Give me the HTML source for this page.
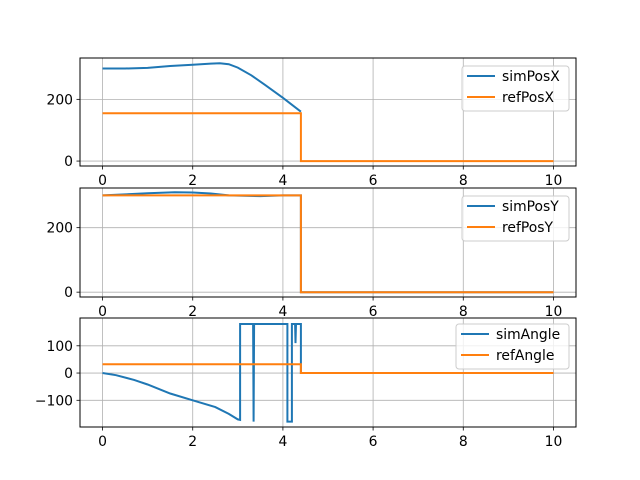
<!DOCTYPE html>
<html><head><meta charset="utf-8"><style>
body{margin:0;background:#fff}
svg{display:block;font-family:"DejaVu Sans","Liberation Sans",sans-serif}
</style></head><body>
<svg id="c" width="640" height="480"></svg>
<script>
// subplot 1
const simXT=[0,0.5,1,1.5,2,2.4,2.6,2.8,3,3.3,3.6,4,4.4];
const simXV=[300,300,302,308,312,316,317,314,303,278,247,205,160];
const refXT=[0,4.4,4.4,10];
const refXV=[155,155,0,0];
// subplot 2
const simYT=[0,0.5,1,1.6,2,2.4,2.8,3.5,4,4.4,4.4,10];
const simYV=[300,303,307,310,309,306,300,298,300,300,0,0];
const refYT=[0,4.4,4.4,10];
const refYV=[300,300,0,0];
// subplot 3
const simAT=[0,0.3,0.7,1,1.5,2,2.5,2.8,3.0,3.05,3.05,3.34,3.35,3.36,4.1,4.1,4.2,4.2,4.27,4.28,4.29,4.4,4.4,10];
const simAV=[0,-8,-25,-42,-75,-100,-125,-150,-170,-172,180,180,-178,180,180,-178,-178,180,180,110,180,180,0,0];
const refAT=[0,4.4,4.4,10];
const refAV=[32,32,0,0];
const xTicks=[0,2,4,6,8,10];
const ticks1=[0,200],ticks2=[0,200],ticks3=[-100,0,100];

const svg=document.getElementById('c');const NS='http://www.w3.org/2000/svg';
function el(t,a,p){const e=document.createElementNS(NS,t);for(const k in a)e.setAttribute(k,a[k]);(p||svg).appendChild(e);return e;}
const X0=80,X1=576;
const xs=t=>X0+(t+0.5)/11*(X1-X0);
function panel(top,bot,ymin,ymax,yt,series,legend,leg){
  const ys=v=>bot-(v-ymin)/(ymax-ymin)*(bot-top);
  const g=el('g',{});
  
  
  xTicks.forEach(t=>{el('line',{x1:xs(t),x2:xs(t),y1:top,y2:bot,stroke:'#b0b0b0','stroke-width':0.8},g);
    el('line',{x1:xs(t),x2:xs(t),y1:bot,y2:bot+3.5,stroke:'#000','stroke-width':0.8},g);
    const tx=el('text',{x:xs(t),y:bot+19,'font-size':13.9,'text-anchor':'middle'},g);tx.textContent=t;
    });
  yt.forEach(v=>{el('line',{x1:X0,x2:X1,y1:ys(v),y2:ys(v),stroke:'#b0b0b0','stroke-width':0.8},g);
    el('line',{x1:X0-3.5,x2:X0,y1:ys(v),y2:ys(v),stroke:'#000','stroke-width':0.8},g);
    const tx=el('text',{x:X0-7,y:ys(v)+5,'font-size':13.9,'text-anchor':'end'},g);tx.textContent=v<0?'\u2212'+(-v):v;
    });
  const cols=['#1f77b4','#ff7f0e'];
  series.forEach((s,i)=>{const d=s[0].map((t,j)=>(j?'L':'M')+xs(t).toFixed(1)+','+ys(s[1][j]).toFixed(1)).join('');
    const p=el('path',{d:d,fill:'none',stroke:cols[i],'stroke-width':2},g);
    });
  el('rect',{x:X0,y:top,width:X1-X0,height:bot-top,fill:'none',stroke:'#000','stroke-width':1},g);
  const lg=el('g',{},g);
  el('rect',{x:leg[0],y:leg[1],width:569-leg[0],height:45,rx:3,fill:'#fff','fill-opacity':0.8,stroke:'#ccc'},lg);
  legend.forEach((n,i)=>{const y=leg[1]+10+i*21;
    el('line',{x1:leg[0]+5,x2:leg[0]+33,y1:y,y2:y,stroke:cols[i],'stroke-width':2},lg);
    const tx=el('text',{x:leg[0]+40,y:y+5,'font-size':13.9},lg);tx.textContent=n;
    });
}
panel(58,166,-16,334,ticks1,[[simXT,simXV],[refXT,refXV]],['simPosX','refPosX'],[462,66]);
panel(188,297,-15,323,ticks2,[[simYT,simYV],[refYT,refYV]],['simPosY','refPosY'],[462,196]);
panel(318,427,-198,202,ticks3,[[simAT,simAV],[refAT,refAV]],['simAngle','refAngle'],[456,324]);
</script>
</body></html>
